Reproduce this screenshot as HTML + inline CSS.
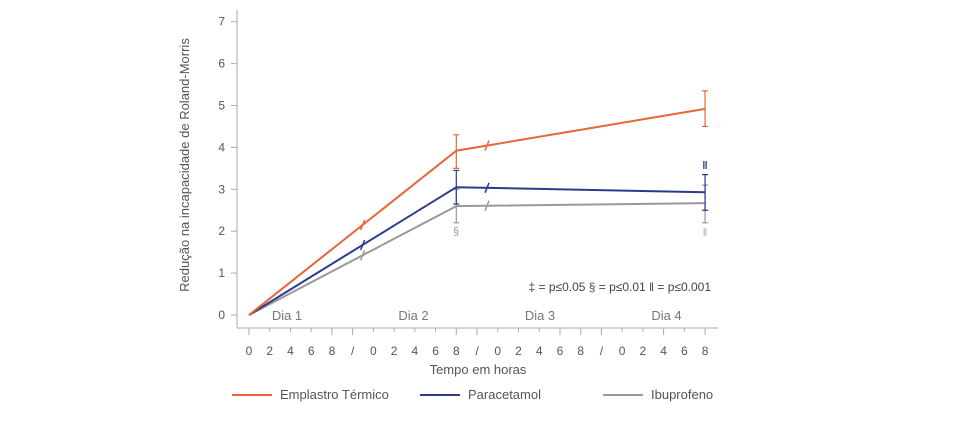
<!DOCTYPE html>
<html><head><meta charset="utf-8"><style>
body{margin:0;background:#fff;font-family:"Liberation Sans",sans-serif}
svg text{font-family:"Liberation Sans",sans-serif}
</style></head><body>
<svg id="c" width="970" height="416"></svg>
<script>
const yTicks=[0,1,2,3,4,5,6,7];
const xLabels=["0","2","4","6","8","/","0","2","4","6","8","/","0","2","4","6","8","/","0","2","4","6","8"];
const dayLabels=["Dia 1","Dia 2","Dia 3","Dia 4"];
const xIdx=[0,10,22];
const orange=[0,3.92,4.92];
const blue=[0,3.05,2.93];
const gray=[0,2.6,2.67];
const orangeErr=[null,[3.5,4.3],[4.5,5.35]];
const blueErr=[null,[2.65,3.45],[2.5,3.35]];
const grayErr=[null,[2.2,3.0],[2.2,3.1]];
const ns="http://www.w3.org/2000/svg",svg=document.getElementById('c');
const X=i=>249+i*20.73, Y=v=>315-v*41.9;
function el(t,a,p){const e=document.createElementNS(ns,t);for(const k in a)e.setAttribute(k,a[k]);(p||svg).appendChild(e);return e;}
const ax="#aaa";
let a=el('line',{x1:237,y1:10,x2:237,y2:328,stroke:ax});


a=el('line',{x1:237,y1:328,x2:718,y2:328,stroke:ax});


yTicks.forEach(v=>{el('line',{x1:231,x2:237,y1:Y(v),y2:Y(v),stroke:ax});
const t=el('text',{x:225,y:Y(v)+4,'text-anchor':'end','font-size':12,fill:'#555'});t.textContent=v;

});
xLabels.forEach((l,i)=>{el('line',{x1:X(i),x2:X(i),y1:328,y2:i%5==0||l=='8'||l=='/'?335:332,stroke:ax});
const t=el('text',{x:X(i),y:355,'text-anchor':'middle','font-size':12,fill:'#555'});t.textContent=l;

});
dayLabels.forEach((d,i)=>{const t=el('text',{x:287+i*126.5,y:320,'text-anchor':'middle','font-size':13,fill:'#777'});t.textContent=d;

});
let t=el('text',{x:478,y:374,'text-anchor':'middle','font-size':13,fill:'#555'});t.textContent='Tempo em horas';


t=el('text',{x:0,y:0,transform:'translate(189,165) rotate(-90)','text-anchor':'middle','font-size':13,fill:'#555'});t.textContent='Redução na incapacidade de Roland-Morris';


t=el('text',{x:711,y:291,'text-anchor':'end','font-size':12,fill:'#444'});t.textContent='‡ = p≤0.05   § = p≤0.01   ǁ = p≤0.001';


function series(vals,err,col,name){
 const pts=vals.map((v,i)=>X(xIdx[i])+','+Y(v)).join(' ');
 const p=el('polyline',{points:pts,fill:'none',stroke:col,'stroke-width':2});
 
 
 err.forEach((e,i)=>{if(!e)return;const x=X(xIdx[i]);
  const g=el('path',{d:`M${x},${Y(e[0])}V${Y(e[1])}M${x-3},${Y(e[0])}h6M${x-3},${Y(e[1])}h6`,stroke:col,'stroke-width':1.2,fill:'none'});
  
  });
 // break markers on segments
 [[0,1,X(5)+10],[1,2,X(11)+10]].forEach(([i,j,bx])=>{
  const x0=X(xIdx[i]),x1=X(xIdx[j]),f=(bx-x0)/(x1-x0),by=Y(vals[i])+(Y(vals[j])-Y(vals[i]))*f;
  const b=el('line',{x1:bx-2,y1:by+5,x2:bx+2,y2:by-5,stroke:col,'stroke-width':1.5});
  
  });
}
series(gray,grayErr,'#999','ibuprofeno');
series(blue,blueErr,'#2b3b8c','paracetamol');
series(orange,orangeErr,'#e8643a','emplastro');
t=el('text',{x:456,y:235,'text-anchor':'middle','font-size':11,fill:'#999'});t.textContent='§';


t=el('text',{x:705,y:236,'text-anchor':'middle','font-size':11,fill:'#aaa'});t.textContent='ǁ';


t=el('text',{x:705,y:169,'text-anchor':'middle','font-size':11,'font-weight':'bold',fill:'#2b3b8c'});t.textContent='ǁ';


[['Emplastro Térmico','#e8643a',232],['Paracetamol','#2b3b8c',420],['Ibuprofeno','#999',603]].forEach(([n,c,x])=>{
 const g=el('g',{});
 
 
 el('line',{x1:x,x2:x+40,y1:395,y2:395,stroke:c,'stroke-width':2},g);
 const tt=el('text',{x:x+48,y:399,'font-size':13,fill:'#555'},g);tt.textContent=n;});
</script>
</body></html>
